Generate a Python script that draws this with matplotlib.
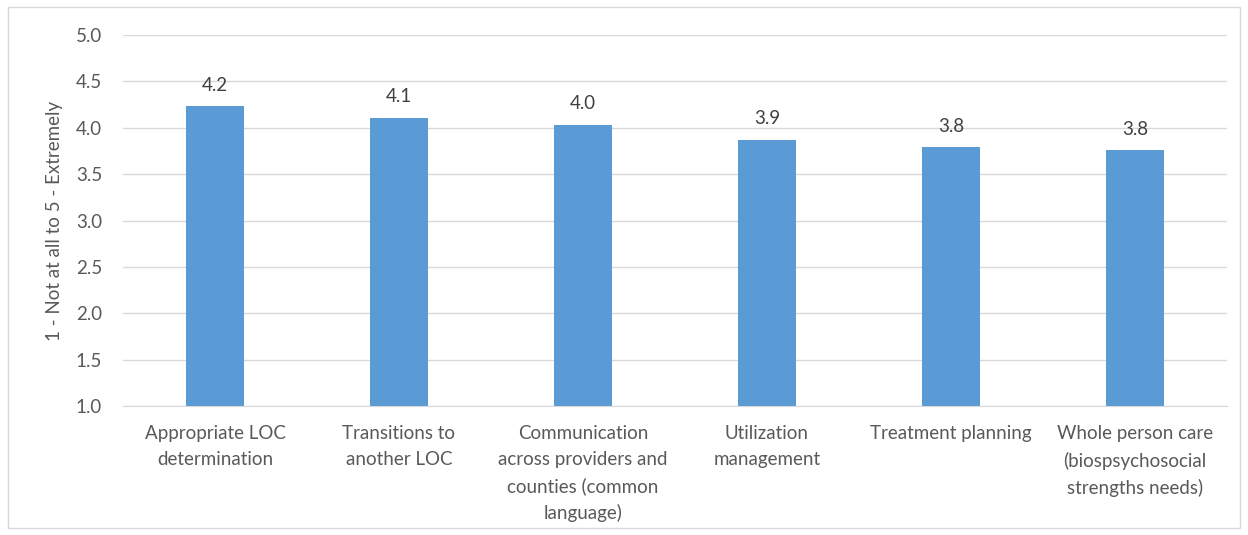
import matplotlib.pyplot as plt
from matplotlib.patches import Rectangle

categories = [
    "Appropriate LOC\ndetermination",
    "Transitions to\nanother LOC",
    "Communication\nacross providers and\ncounties (common\nlanguage)",
    "Utilization\nmanagement",
    "Treatment planning",
    "Whole person care\n(biospsychosocial\nstrengths needs)",
]
scores = [4.23, 4.11, 4.03, 3.87, 3.79, 3.76]
yticks = [1.0, 1.5, 2.0, 2.5, 3.0, 3.5, 4.0, 4.5, 5.0]

text_color = "#595959"
fs = 13.5
plt.rcParams['font.family'] = ['Lato', 'DejaVu Sans']

fig = plt.figure(figsize=(12.48, 5.35), dpi=100)
ax = fig.add_axes([123 / 1248, 1 - 406 / 535, 1104 / 1248, 371 / 535])

x = range(len(categories))
ax.bar(x, [s - 1 for s in scores], bottom=1, width=0.315, color="#5b9bd5", zorder=3)
for i, s in enumerate(scores):
    ax.annotate(f"{s:.1f}", (i, s), xytext=(0, 9), textcoords="offset points",
                ha="center", va="bottom", fontsize=fs, color="#404040")

ax.set_xlim(-0.5, len(categories) - 0.5)
ax.set_ylim(1.0, 5.0)
ax.set_yticks(yticks)
ax.set_yticklabels([f"{t:.1f}" for t in yticks])
ax.set_xticks(list(x))
ax.set_xticklabels(categories, fontsize=fs, color=text_color, linespacing=1.6, va="top")
ax.tick_params(axis="y", length=0, pad=15, labelsize=fs, labelcolor=text_color)
ax.tick_params(axis="x", length=0, pad=14)
ax.grid(axis="y", color="#d9d9d9", linewidth=1, zorder=0)
for side in ["top", "right", "left"]:
    ax.spines[side].set_visible(False)
ax.spines["bottom"].set_color("#d9d9d9")
ax.set_ylabel("1 - Not at all to 5 - Extremely", fontsize=fs, color=text_color, labelpad=9)

# outer chart border
fig.patches.append(Rectangle((8 / 1248, 7 / 535), 1232 / 1248, 521 / 535, transform=fig.transFigure,
                             fill=False, edgecolor="#d9d9d9", linewidth=1))

fig.savefig("out.png", dpi=100)
plt.close()
